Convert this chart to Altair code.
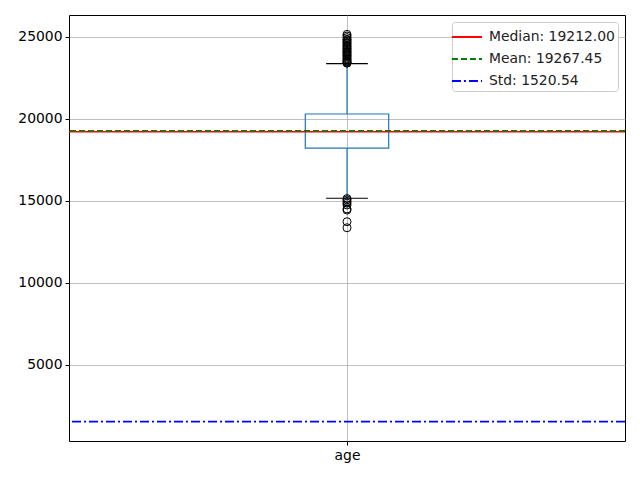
import altair as alt
import pandas as pd

# Box statistics
category = ["age"]
q1 = [18210]
q3 = [20290]
whisker_low = [15150]
whisker_high = [23360]
median_val = 19212.00
mean_val = 19267.45
std_val = 1520.54

outliers = [25150, 25050, 24950, 24850, 24800, 24720, 24650, 24580, 24500,
            24430, 24380, 24300, 24250, 24180, 24100, 24050, 23980, 23900,
            23850, 23780, 23700, 23650, 23580, 23520, 23470, 23420, 23390,
            15130, 15050, 14950, 14850, 14740, 14500, 14430, 13720, 13350]

line_labels = ["Median: 19212.00", "Mean: 19267.45", "Std: 1520.54"]
line_values = [median_val, mean_val, std_val]
line_colors = ["#ff0000", "#008000", "#0000ff"]
line_dashes = [[1, 0], [6, 3], [9, 3, 2, 3]]

FONT = "DejaVu Sans"
xs = alt.Scale(domain=[0.5, 1.5], nice=False, zero=False)
ys = alt.Scale(domain=[339, 26331], nice=False, zero=False)

box_df = pd.DataFrame({"x1": [0.925], "x2": [1.075], "q1": q1, "q3": q3,
                       "wl": whisker_low, "wh": whisker_high, "xc": [1.0],
                       "c1": [0.9625], "c2": [1.0375], "cat": category})
out_df = pd.DataFrame({"x": [1.0] * len(outliers), "y": outliers})
lines_df = pd.DataFrame({"label": line_labels, "value": line_values})

xaxis = alt.Axis(values=[1], labelExpr="'age'", title=None, grid=True,
                 gridColor="#b0b0b0", gridWidth=0.8, domain=False,
                 tickColor="black", tickSize=4, labelFontSize=13.9,
                 labelFont=FONT, labelColor="black", labelPadding=3)
yaxis = alt.Axis(values=[5000, 10000, 15000, 20000, 25000], format="d",
                 title=None, grid=True, gridColor="#b0b0b0", gridWidth=0.8,
                 domain=False, tickColor="black", tickSize=4,
                 labelFontSize=13.9, labelFont=FONT, labelColor="black",
                 labelPadding=3)

base = alt.Chart(box_df)

grid_layer = base.mark_point(opacity=0).encode(
    x=alt.X("xc:Q", scale=xs, axis=xaxis),
    y=alt.Y("q1:Q", scale=ys, axis=yaxis),
)

box = base.mark_rect(fill=None, stroke="#1f77b4", strokeWidth=1.2).encode(
    x=alt.X("x1:Q", scale=xs), x2="x2:Q",
    y=alt.Y("q1:Q", scale=ys), y2="q3:Q")

wh_low = base.mark_rule(color="#1f77b4", strokeWidth=1.2).encode(
    x=alt.X("xc:Q", scale=xs), y=alt.Y("wl:Q", scale=ys), y2="q1:Q")
wh_high = base.mark_rule(color="#1f77b4", strokeWidth=1.2).encode(
    x=alt.X("xc:Q", scale=xs), y=alt.Y("q3:Q", scale=ys), y2="wh:Q")
cap_low = base.mark_rule(color="black", strokeWidth=1.2).encode(
    x=alt.X("c1:Q", scale=xs), x2="c2:Q", y=alt.Y("wl:Q", scale=ys))
cap_high = base.mark_rule(color="black", strokeWidth=1.2).encode(
    x=alt.X("c1:Q", scale=xs), x2="c2:Q", y=alt.Y("wh:Q", scale=ys))

pts = alt.Chart(out_df).mark_point(shape="circle", filled=False, color="black",
                                   size=64, strokeWidth=1, opacity=1).encode(
    x=alt.X("x:Q", scale=xs), y=alt.Y("y:Q", scale=ys))

hlines = alt.Chart(lines_df).mark_rule(strokeWidth=1.6).encode(
    y=alt.Y("value:Q", scale=ys),
    color=alt.Color("label:N",
                    scale=alt.Scale(domain=line_labels, range=line_colors),
                    legend=alt.Legend(title=None, orient="top-right",
                                      symbolType="M-1.4,0L1.4,0", symbolSize=462,
                                      symbolStrokeWidth=1.8,
                                      symbolFillColor="transparent",
                                      labelFontSize=13.9, labelFont=FONT,
                                      labelColor="#222222",
                                      fillColor="white", strokeColor="#cccccc",
                                      cornerRadius=3, padding=3,
                                      rowPadding=3, offset=7,
                                      labelOffset=10,
                                      labelLimit=300)),
    strokeDash=alt.StrokeDash("label:N",
                              scale=alt.Scale(domain=line_labels, range=line_dashes),
                              legend=None),
    order=alt.Order("value:Q"),
)

chart = alt.layer(grid_layer, box, wh_low, wh_high, cap_low, cap_high, pts,
                  hlines).properties(
    width=556, height=426,
    background="white",
    autosize=alt.AutoSizeParams(type="none"),
    padding={"left": 69, "top": 15, "right": 15, "bottom": 39},
).configure_view(stroke="black", strokeWidth=1)

chart.save("out.html", embed_options={"renderer": "svg", "actions": False})
